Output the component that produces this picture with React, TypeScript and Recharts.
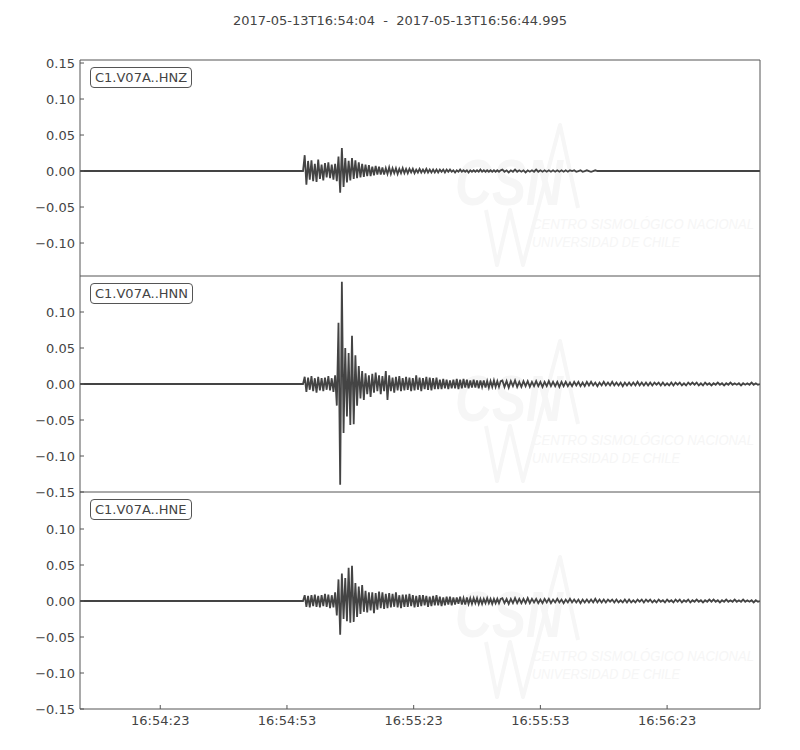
import { LineChart, Line, XAxis, YAxis } from 'recharts'

const TITLE = '2017-05-13T16:54:04  -  2017-05-13T16:56:44.995'
const END_T = 160.995
const X_TICKS = [19, 49, 79, 109, 139]
const X_LABELS = ['16:54:23', '16:54:53', '16:55:23', '16:55:53', '16:56:23']

// sampling grid (seconds after 16:54:04)
const STRONG_T0 = 52.8
const STRONG_DT = 0.4
const CODA_T0 = 100
const CODA_DT = 0.5

// amplitudes in thousandths
const HNZ_STRONG = [
  0, 22, -19, 14, -12, 15, -14, 10, -15, 16,
  -11, 9, -13, 11, -9, 12, -10, 9, -12, 10,
  -14, 20, -30, 32, -22, 18, -16, 14, -13, 18,
  -11, 15, -10, 12, -9, 10, -8, 9, -7, 8,
  -7, 6, -6, 7, -5, 6, -5, 5, -5, 4,
  -4, 5, -4, 4, -3, 4, -4, 3, -3, 4,
  -3, 3, -3, 3, -2, 3, -3, 2, -2, 3,
  -2, 2, -2, 3, -2, 2, -2, 2, -2, 2,
  -2, 2, -1, 2, -2, 2, -1, 2, -1, 1,
  -2, 1, -1, 2, -1, 1, -1, 1, -2, 1,
  -1, 1, -1, 1, -1, 2, -1, 1, -1, 1,
  -1, 1, -1, 1, -1, 1, -1, 1,
]
const HNZ_CODA = [
  2, -1, 1, -2, 1, -1, 2, -1, 1, -1, 1, -2, 1, -1, 1, -1, 2, -1, 1, -1,
  1, -1, 1, -1, 1, -1, 1, -1, 1, -1, 1, -1, 1, 0, 1, -1, 0, 1, -1, 0,
  1, 0, -1, 0, 1, 0,
]

const HNN_STRONG = [
  0, 10, -11, 9, -8, 11, -10, 8, -12, 10,
  -9, 8, -10, 9, -8, 11, -9, 8, -11, 12,
  -30, 85, -140, 142, -68, 50, -45, 43, -57, 67,
  -56, 40, -30, 25, -20, 18, -22, 15, -14, 12,
  -18, 14, -12, 16, -10, 12, -14, 11, -10, 18,
  -22, 12, -10, 9, -12, 10, -9, 11, -10, 8,
  -9, 10, -8, 9, -10, 8, -9, 12, -8, 9,
  -10, 8, -7, 10, -8, 9, -9, 8, -7, 9,
  -7, 6, -7, 7, -6, 6, -7, 5, -6, 6,
  -6, 7, -7, 6, -6, 7, -5, 6, -6, 5,
  -5, 6, -5, 5, -6, 5, -4, 5, -5, 4,
  -5, 4, -4, 5, -4, 4, -4, 4,
]
const HNN_CODA = [
  5, -4, 4, -5, 4, -3, 5, -4, 3, -4,
  4, -3, 4, -4, 3, -3, 4, -3, 3, -4,
  3, -3, 4, -3, 3, -3, 3, -4, 3, -3,
  3, -3, 2, -3, 3, -2, 3, -3, 2, -3,
  3, -2, 3, -2, 2, -3, 2, -2, 3, -2,
  2, -2, 3, -2, 2, -2, 2, -3, 2, -2,
  2, -2, 2, -2, 3, -2, 2, -2, 2, -2,
  2, -2, 2, -1, 2, -2, 2, -2, 1, -2,
  2, -2, 2, -1, 2, -2, 1, -2, 2, -1,
  2, -1, 2, -2, 1, -2, 2, -1, 1, -2,
  1, -1, 2, -1, 1, -2, 1, -1, 2, -1,
  1, -1, 1, -2, 1, -1, 1, -1, 2, -1, 1, -1,
]

const HNE_STRONG = [
  0, 8, -8, 7, -9, 8, -7, 9, -8, 7,
  -9, 8, -7, 10, -8, 9, -10, 8, -9, 12,
  -20, 30, -47, 38, -25, 32, -28, 46, -30, 49,
  -29, 25, -22, 20, -18, 22, -15, 14, -16, 12,
  -13, 12, -17, 11, -12, 13, -10, 12, -11, 10,
  -10, 11, -9, 10, -8, 12, -9, 8, -10, 9,
  -8, 9, -8, 10, -7, 8, -9, 7, -8, 8,
  -7, 8, -6, 7, -8, 6, -7, 7, -6, 8,
  -6, 6, -7, 5, -6, 6, -5, 6, -6, 5,
  -5, 5, -4, 6, -5, 4, -5, 5, -4, 4,
  -4, 4, -3, 4, -4, 3, -4, 3, -3, 4,
  -3, 3, -4, 3, -3, 3, -3, 3,
]
const HNE_CODA = [
  4, -3, 3, -4, 3, -3, 4, -3, 3, -3,
  3, -3, 4, -3, 3, -2, 3, -3, 2, -3,
  3, -2, 3, -3, 2, -2, 3, -2, 2, -3,
  2, -2, 3, -2, 2, -2, 2, -3, 2, -2,
  2, -2, 2, -2, 3, -2, 2, -2, 2, -2,
  2, -1, 2, -2, 2, -2, 1, -2, 2, -2,
  2, -2, 1, -2, 2, -1, 2, -2, 2, -1,
  2, -2, 1, -2, 2, -1, 1, -2, 2, -1,
  1, -2, 2, -1, 2, -2, 1, -1, 2, -2,
  1, -1, 2, -1, 1, -2, 1, -1, 2, -1,
  2, -1, 1, -2, 1, -1, 2, -1, 1, -1,
  2, -1, 1, -1, 2, -1, 1, -1, 1, -2, 1, -1,
]

const Z_TICKS = [-0.1, -0.05, 0, 0.05, 0.1, 0.15]
const NE_TICKS = [-0.15, -0.1, -0.05, 0, 0.05, 0.1]

const INK = '#444'
const FRAME = '#555'
const WAVE = '#444'
const MARK = '#f6f6f6'

type Row = { t: number; v: number }

function buildTrace(strong: number[], coda: number[]): Row[] {
  const rows: Row[] = [{ t: 0, v: 0 }]
  strong.forEach((a, i) => rows.push({ t: STRONG_T0 + i * STRONG_DT, v: a / 1000 }))
  coda.forEach((a, i) => rows.push({ t: CODA_T0 + i * CODA_DT, v: a / 1000 }))
  rows.push({ t: END_T, v: 0 })
  return rows
}

const fmtY = (v: number) => v.toFixed(2).replace('-', '\u2212')
const fmtX = (v: number) => X_LABELS[X_TICKS.indexOf(v)] ?? ''

interface PanelProps {
  label: string
  data: Row[]
  domain: [number, number]
  ticks: number[]
  top: number
  plotH: number
  showX?: boolean
}

// faint CSN logo behind each panel
function Watermark({ y }: { y: number }) {
  return (
    <g fill={MARK}>
      <polyline points={`486,${y + 150} 497,${y + 205} 510,${y + 150} 523,${y + 205} 560,${y + 65} 578,${y + 148}`}
        fill="none" stroke={MARK} strokeWidth={4} strokeLinejoin="round" />
      <text x={455} y={y + 145} fontSize={64} fontWeight={700} fontStyle="italic"
        fontFamily="Liberation Sans" textLength={108} lengthAdjust="spacingAndGlyphs">CSN</text>
      <text x={532} y={y + 169} fontSize={14} fontStyle="italic"
        fontFamily="Liberation Sans Narrow, Liberation Sans"
        textLength={222} lengthAdjust="spacingAndGlyphs">CENTRO SISMOLÓGICO NACIONAL</text>
      <text x={532} y={y + 187} fontSize={14} fontStyle="italic"
        fontFamily="Liberation Sans Narrow, Liberation Sans"
        textLength={148} lengthAdjust="spacingAndGlyphs">UNIVERSIDAD DE CHILE</text>
    </g>
  )
}

function Panel({ label, data, domain, ticks, top, plotH, showX }: PanelProps) {
  const xH = showX ? 30 : 0
  const height = 10 + plotH + xH + 10
  const axisStyle = { stroke: FRAME }
  const tickStyle = { fill: INK, fontSize: 13, fontFamily: 'DejaVu Sans' }
  return (
    <>
      <div style={{ position: 'absolute', left: 0, top, width: 800, height }}>
        <LineChart width={800} height={height} data={data}
          margin={{ top: 9, right: 39, bottom: 10, left: 0 }}>
          <XAxis dataKey="t" type="number" domain={[0, END_T]} ticks={X_TICKS}
            allowDataOverflow height={xH} tickSize={-4} tickMargin={11}
            tickFormatter={fmtX} tick={showX ? tickStyle : false}
            axisLine={axisStyle} tickLine={axisStyle} />
          <XAxis xAxisId="top" orientation="top" dataKey="t" type="number"
            domain={[0, END_T]} ticks={X_TICKS} allowDataOverflow height={1}
            tickSize={-4} tick={false} axisLine={axisStyle} tickLine={axisStyle} />
          <YAxis type="number" domain={domain} ticks={ticks} allowDataOverflow
            width={80} tickSize={-4} tickMargin={9} tickFormatter={fmtY}
            tick={tickStyle} axisLine={axisStyle} tickLine={axisStyle} />
          <YAxis yAxisId="right" orientation="right" type="number" domain={domain}
            ticks={ticks} allowDataOverflow width={1} tickSize={-4} tick={false}
            axisLine={axisStyle} tickLine={axisStyle} />
          <Line dataKey="v" xAxisId="top" yAxisId="right" stroke="none" dot={false}
            isAnimationActive={false} legendType="none" />
          <Line dataKey="v" stroke={WAVE} strokeWidth={1.8} dot={false}
            isAnimationActive={false} type="linear" />
        </LineChart>
      </div>
      <div style={{
        position: 'absolute', left: 90, top: top + 17, border: `1px solid ${FRAME}`,
        borderRadius: 4, padding: '1px 4px', fontSize: 13, color: INK,
        fontFamily: 'DejaVu Sans', background: '#fff', lineHeight: '17px',
      }}>{label}</div>
    </>
  )
}

export default function App() {
  return (
    <div style={{
      position: 'absolute', left: 0, top: 0, width: 800, height: 750,
      background: '#fff', fontFamily: 'DejaVu Sans', overflow: 'hidden',
    }}>
      <svg width={800} height={750} style={{ position: 'absolute', left: 0, top: 0 }}>
        <Watermark y={60} />
        <Watermark y={276} />
        <Watermark y={492} />
      </svg>
      <div style={{
        position: 'absolute', left: 0, top: 13, width: 800, textAlign: 'center',
        fontSize: 13, color: INK, whiteSpace: 'pre',
      }}>{TITLE}</div>
      <Panel label="C1.V07A..HNZ" data={buildTrace(HNZ_STRONG, HNZ_CODA)}
        domain={[-0.1458, 0.1542]} ticks={Z_TICKS} top={50} plotH={216} />
      <Panel label="C1.V07A..HNN" data={buildTrace(HNN_STRONG, HNN_CODA)}
        domain={[-0.15, 0.15]} ticks={NE_TICKS} top={266} plotH={216} />
      <Panel label="C1.V07A..HNE" data={buildTrace(HNE_STRONG, HNE_CODA)}
        domain={[-0.15, 0.1514]} ticks={NE_TICKS} top={482} plotH={217} showX />
    </div>
  )
}
